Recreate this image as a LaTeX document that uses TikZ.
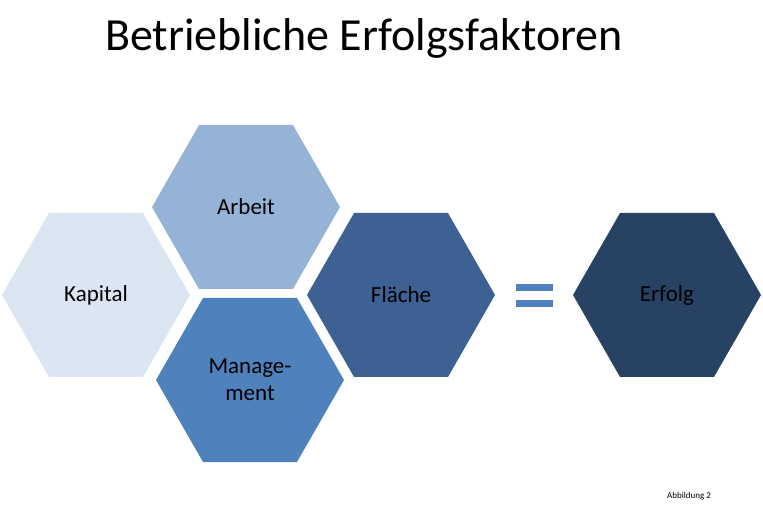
\documentclass[tikz,border=0pt]{standalone}
\usepackage{fontspec}
\setmainfont{Carlito}
\definecolor{cK}{HTML}{DCE6F2}
\definecolor{cA}{HTML}{95B3D7}
\definecolor{cM}{HTML}{4F81BD}
\definecolor{cF}{HTML}{3C6192}
\definecolor{cE}{HTML}{284264}
\begin{document}
\begin{tikzpicture}[x=1pt,y=-1pt,
  hex/.style={fill=#1,draw=none},
  lbl/.style={font=\fontsize{23}{27}\selectfont,align=center,text=black}]
\useasboundingbox (0,0) rectangle (763,510);
\newcommand\hexat[2]{\fill[hex=#2] (#1) ++(-94,0) -- ++(47,-82) -- ++(94,0) -- ++(47,82) -- ++(-47,82) -- ++(-94,0) -- cycle;}
\coordinate (k) at (96,295);
\coordinate (a) at (246,207);
\coordinate (m) at (250,380);
\coordinate (f) at (401,295);
\coordinate (e) at (667,295);
\hexat{k}{cK}\hexat{a}{cA}\hexat{m}{cM}\hexat{f}{cF}\hexat{e}{cE}
\node[lbl] (tk) at (k) {Kapital};
\node[lbl] (ta) at (a) {Arbeit};
\node[lbl] (tm) at (m) {Manage-\\ment};
\node[lbl] (tf) at (f) {Fläche};
\node[lbl] (te) at (e) {Erfolg};
\fill[cM] (516,284) rectangle (553,291);
\fill[cM] (516,300) rectangle (553,307);
\node[font=\fontsize{46}{50}\selectfont] (title) at (364,38) {Betriebliche Erfolgsfaktoren};
\node[font=\fontsize{9}{11}\selectfont] (abb) at (689,496) {Abbildung 2};
\end{tikzpicture}
\end{document}
